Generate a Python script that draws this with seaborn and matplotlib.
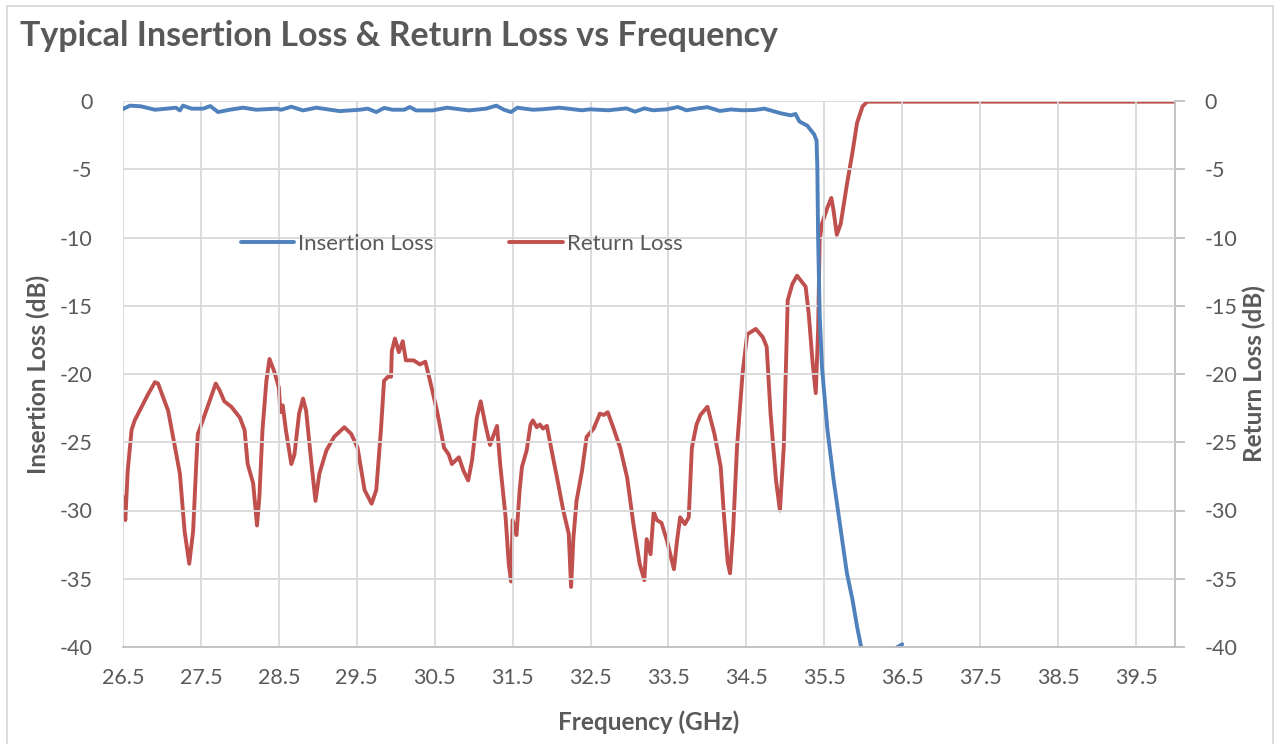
import matplotlib
matplotlib.use("Agg")
import matplotlib.pyplot as plt
import seaborn as sns
import pandas as pd
from matplotlib.patches import Rectangle

# ---------------- data ----------------
il_freq = [26.50, 26.51, 26.59, 26.73, 26.91, 27.06, 27.18, 27.23, 27.27, 27.38,
           27.53, 27.62, 27.72, 27.87, 28.04, 28.21, 28.47, 28.53, 28.66, 28.81,
           28.98, 29.28, 29.54, 29.64, 29.75, 29.85, 29.96, 30.11, 30.18, 30.26,
           30.47, 30.66, 30.94, 31.16, 31.29, 31.39, 31.48, 31.56, 31.76, 31.87,
           32.10, 32.39, 32.49, 32.73, 32.96, 33.07, 33.19, 33.30, 33.48, 33.62,
           33.73, 33.88, 34.00, 34.16, 34.30, 34.45, 34.60, 34.73, 34.94, 35.07,
           35.13, 35.18, 35.28, 35.37, 35.40, 35.41, 35.42, 35.44, 35.47, 35.50,
           35.54, 35.62, 35.71, 35.79, 35.86, 35.92, 36.00, 36.20, 36.38, 36.50]
il_db = [-0.60, -0.56, -0.34, -0.39, -0.64, -0.56, -0.49, -0.69, -0.34, -0.56,
         -0.56, -0.37, -0.81, -0.64, -0.49, -0.64, -0.56, -0.64, -0.42, -0.69,
         -0.49, -0.74, -0.64, -0.56, -0.81, -0.51, -0.64, -0.64, -0.44, -0.69,
         -0.69, -0.49, -0.69, -0.56, -0.34, -0.64, -0.81, -0.49, -0.64, -0.61,
         -0.49, -0.68, -0.61, -0.68, -0.54, -0.78, -0.54, -0.68, -0.61, -0.44,
         -0.68, -0.54, -0.45, -0.73, -0.62, -0.68, -0.66, -0.56, -0.90, -1.05,
         -0.95, -1.50, -1.80, -2.45, -2.90, -4.80, -9.90, -15.6, -19.5, -21.5,
         -24.1, -27.8, -31.4, -34.6, -36.5, -38.5, -40.8, -42.0, -40.2, -39.8]

rl_freq = [26.50, 26.53, 26.56, 26.61, 26.65, 26.74, 26.82, 26.91, 26.95, 27.08,
           27.23, 27.29, 27.35, 27.40, 27.44, 27.46, 27.53, 27.61, 27.69, 27.74,
           27.80, 27.89, 28.00, 28.06, 28.10, 28.17, 28.22, 28.25, 28.29, 28.34,
           28.38, 28.44, 28.50, 28.52, 28.55, 28.59, 28.66, 28.70, 28.76, 28.81,
           28.85, 28.91, 28.97, 29.02, 29.11, 29.21, 29.34, 29.43, 29.51, 29.60,
           29.69, 29.75, 29.81, 29.85, 29.90, 29.94, 29.95, 29.99, 30.04, 30.09,
           30.13, 30.23, 30.31, 30.38, 30.44, 30.53, 30.62, 30.68, 30.72, 30.81,
           30.87, 30.93, 30.98, 31.04, 31.09, 31.15, 31.21, 31.26, 31.30, 31.34,
           31.41, 31.45, 31.48, 31.50, 31.55, 31.59, 31.62, 31.68, 31.73, 31.76,
           31.81, 31.85, 31.89, 31.94, 32.00, 32.07, 32.15, 32.22, 32.25, 32.28,
           32.32, 32.39, 32.45, 32.54, 32.62, 32.67, 32.72, 32.79, 32.88, 32.97,
           33.05, 33.13, 33.19, 33.22, 33.27, 33.31, 33.35, 33.41, 33.48, 33.57,
           33.61, 33.65, 33.71, 33.76, 33.80, 33.86, 33.91, 34.00, 34.09, 34.17,
           34.21, 34.26, 34.29, 34.33, 34.38, 34.45, 34.51, 34.62, 34.71, 34.76,
           34.81, 34.88, 34.93, 34.98, 35.03, 35.09, 35.15, 35.26, 35.30, 35.35,
           35.39, 35.42, 35.44, 35.47, 35.54, 35.59, 35.62, 35.66, 35.71, 35.79,
           35.86, 35.92, 35.99, 36.05, 37.00, 38.00, 39.00, 40.00]
rl_db = [-29.0, -30.7, -27.1, -24.1, -23.4, -22.4, -21.5, -20.6, -20.7, -22.7,
         -27.3, -31.5, -33.9, -31.5, -26.6, -24.4, -23.3, -22.0, -20.7, -21.2,
         -22.0, -22.4, -23.2, -24.1, -26.6, -28.0, -31.1, -29.0, -24.1, -20.5,
         -18.9, -19.8, -21.0, -22.8, -22.3, -24.1, -26.6, -25.9, -22.9, -21.8,
         -22.7, -26.1, -29.3, -27.3, -25.6, -24.6, -23.9, -24.4, -25.4, -28.5,
         -29.5, -28.5, -24.1, -20.5, -20.2, -20.2, -18.3, -17.4, -18.4, -17.6,
         -19.0, -19.0, -19.3, -19.1, -20.5, -22.7, -25.4, -25.9, -26.6, -26.1,
         -27.1, -27.8, -26.3, -23.2, -22.0, -23.7, -25.2, -24.4, -23.8, -26.6,
         -30.5, -33.9, -35.2, -30.7, -31.8, -28.5, -26.8, -25.6, -23.7, -23.4,
         -23.9, -23.7, -24.0, -23.8, -25.6, -27.6, -30.0, -31.7, -35.6, -32.0,
         -29.3, -27.1, -24.6, -24.0, -22.9, -23.0, -22.8, -23.9, -25.4, -27.6,
         -31.0, -33.9, -35.1, -32.1, -33.2, -30.1, -30.7, -30.9, -32.2, -34.3,
         -32.2, -30.5, -31.0, -30.5, -25.4, -23.7, -23.0, -22.4, -24.4, -26.8,
         -30.2, -33.8, -34.6, -31.4, -25.3, -20.0, -17.1, -16.7, -17.3, -18.0,
         -22.9, -27.8, -30.0, -25.3, -14.6, -13.4, -12.8, -13.6, -15.6, -19.2,
         -21.4, -16.8, -10.2, -9.0, -7.8, -7.1, -8.1, -9.8, -9.0, -6.1,
         -3.8, -1.6, -0.4, -0.05, -0.05, -0.05, -0.05, -0.05]

x_ticks = [26.5, 27.5, 28.5, 29.5, 30.5, 31.5, 32.5, 33.5, 34.5, 35.5,
           36.5, 37.5, 38.5, 39.5]
y_ticks = [-40, -35, -30, -25, -20, -15, -10, -5, 0]

title = "Typical Insertion Loss & Return Loss vs Frequency"
x_label = "Frequency (GHz)"
y_label_left = "Insertion Loss (dB)"
y_label_right = "Return Loss (dB)"
series_names = ["Insertion Loss", "Return Loss"]

# ---------------- style ----------------
sns.set_style("white")
plt.rcParams["font.family"] = ["Lato", "DejaVu Sans"]
plt.rcParams["axes.unicode_minus"] = False

TXT = "#595959"
GRID = "#D9D9D9"
BLUE = "#4F81BD"
RED = "#C0504D"

fig = plt.figure(figsize=(12.75, 7.44), dpi=100)
ax = fig.add_axes([123 / 1275, 1 - 647 / 744, (1175 - 123) / 1275, (647 - 101) / 744])
ax2 = ax.twinx()

df_il = pd.DataFrame({"f": il_freq, "v": il_db})
df_rl = pd.DataFrame({"f": rl_freq, "v": rl_db})

sns.lineplot(data=df_il, x="f", y="v", ax=ax, color=BLUE, lw=2.8,
             sort=False, estimator=None, label=series_names[0], legend=False)
sns.lineplot(data=df_rl, x="f", y="v", ax=ax2, color=RED, lw=2.8,
             sort=False, estimator=None, label=series_names[1], legend=False)
for a in (ax, ax2):
    for ln in a.get_lines():
        ln.set_solid_joinstyle("round")
        ln.set_solid_capstyle("round")

for a in (ax, ax2):
    a.set_xlim(26.5, 40)
    a.set_ylim(-40, 0)
    a.set_yticks(y_ticks)

ax.set_xticks(x_ticks)
ax.set_xticklabels([f"{v:g}" for v in x_ticks])
ax.grid(True, color=GRID, lw=1.3)
ax.set_axisbelow(True)
ax.set_zorder(ax2.get_zorder() + 1)
ax.patch.set_visible(False)

for a in (ax, ax2):
    for s in a.spines.values():
        s.set_visible(False)
ax.spines["bottom"].set_visible(True)
ax.spines["bottom"].set_color("#BFBFBF")
ax.spines["bottom"].set_linewidth(1.3)
ax2.spines["right"].set_visible(True)
ax2.spines["right"].set_color("#BFBFBF")
ax2.spines["right"].set_linewidth(1.3)

ax.tick_params(axis="x", length=0, pad=15, labelsize=15.5, labelcolor=TXT)
ax.tick_params(axis="y", length=0, pad=22, labelsize=15.5, labelcolor=TXT)
ax2.tick_params(axis="y", length=7, width=1.3, color="#BFBFBF", direction="out",
                pad=14, labelsize=15.5, labelcolor=TXT)

ax.set_xlabel(x_label, fontsize=17.5, fontweight="bold", color=TXT, labelpad=16)
ax.set_ylabel(y_label_left, fontsize=17.5, fontweight="bold", color=TXT, labelpad=7)
ax2.set_ylabel(y_label_right, fontsize=17.5, fontweight="bold", color=TXT,
               labelpad=4, rotation=90)

h1, l1 = ax.get_legend_handles_labels()
h2, l2 = ax2.get_legend_handles_labels()
leg = ax.legend(h1 + h2, l1 + l2, loc="center", bbox_to_anchor=(0.322, 0.738),
                ncol=2, frameon=False, fontsize=16, handlelength=2.4,
                handletextpad=0.2, columnspacing=3.4)
for t in leg.get_texts():
    t.set_color(TXT)

fig.text(20 / 1275, 1 - 36 / 744, title, fontsize=24.5, fontweight="bold",
         color=TXT, ha="left", va="center")

fig.patches.append(Rectangle((7 / 1275, -0.01), (1273 - 7) / 1275, 1 - 6 / 744 + 0.01,
                             transform=fig.transFigure, fill=False,
                             edgecolor="#D9D9D9", lw=1.3))

fig.savefig("out.png", dpi=100)
